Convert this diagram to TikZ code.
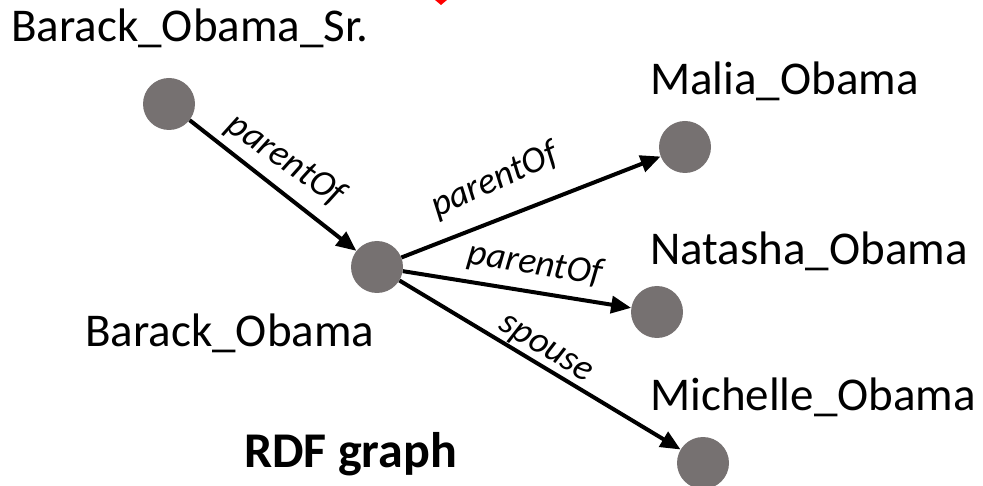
\documentclass[tikz,border=0pt]{standalone}
\usepackage{fontspec}
\setmainfont{Carlito}
\usetikzlibrary{arrows.meta}
\definecolor{nodegray}{HTML}{767171}
\definecolor{markred}{HTML}{FF0000}
\begin{document}
\begin{tikzpicture}[x=1pt,y=-1pt,
  ent/.style={circle,fill=nodegray,minimum size=52pt,inner sep=0pt},
  entlabel/.style={font=\fontsize{47}{56}\selectfont,inner sep=0pt,anchor=base west},
  rel/.style={-{Triangle[length=20pt,width=17pt]},line width=4pt,black},
  rlab/.style={font=\fontsize{37}{44}\selectfont\itshape,sloped,above,outer sep=0pt}]
\useasboundingbox (0,0) rectangle (983,486);
\fill[markred] (435,0) -- (447,0) -- (441,5) -- cycle;
\node[ent] (sr) at (169,104) {};
\node[ent] (bo) at (377,267) {};
\node[ent] (ma) at (685,147) {};
\node[ent] (na) at (657,312) {};
\node[ent] (mi) at (703,463) {};
\node[entlabel] (lsr) at (11,42) {Barack\_Obama\_Sr.};
\node[entlabel] (lma) at (650,95) {Malia\_Obama};
\node[entlabel] (lna) at (650,265) {Natasha\_Obama};
\node[entlabel] (lbo) at (85,347) {Barack\_Obama};
\node[entlabel] (lmi) at (650,410) {Michelle\_Obama};
\node[entlabel,font=\fontsize{50}{60}\selectfont\bfseries] (title) at (244,467) {RDF graph};
\draw[rel] (sr) -- node[rlab,pos=0.48,inner sep=12pt,rotate=3] {parentOf} (bo);
\draw[rel] (bo) -- node[rlab,pos=0.42,inner sep=22pt,rotate=3] {parentOf} (ma);
\draw[rel] (bo) -- node[rlab,pos=0.56,inner sep=12pt] {parentOf} (na);
\draw[rel] (bo) -- node[rlab,pos=0.49,inner sep=3pt] {spouse} (mi);
\end{tikzpicture}
\end{document}
